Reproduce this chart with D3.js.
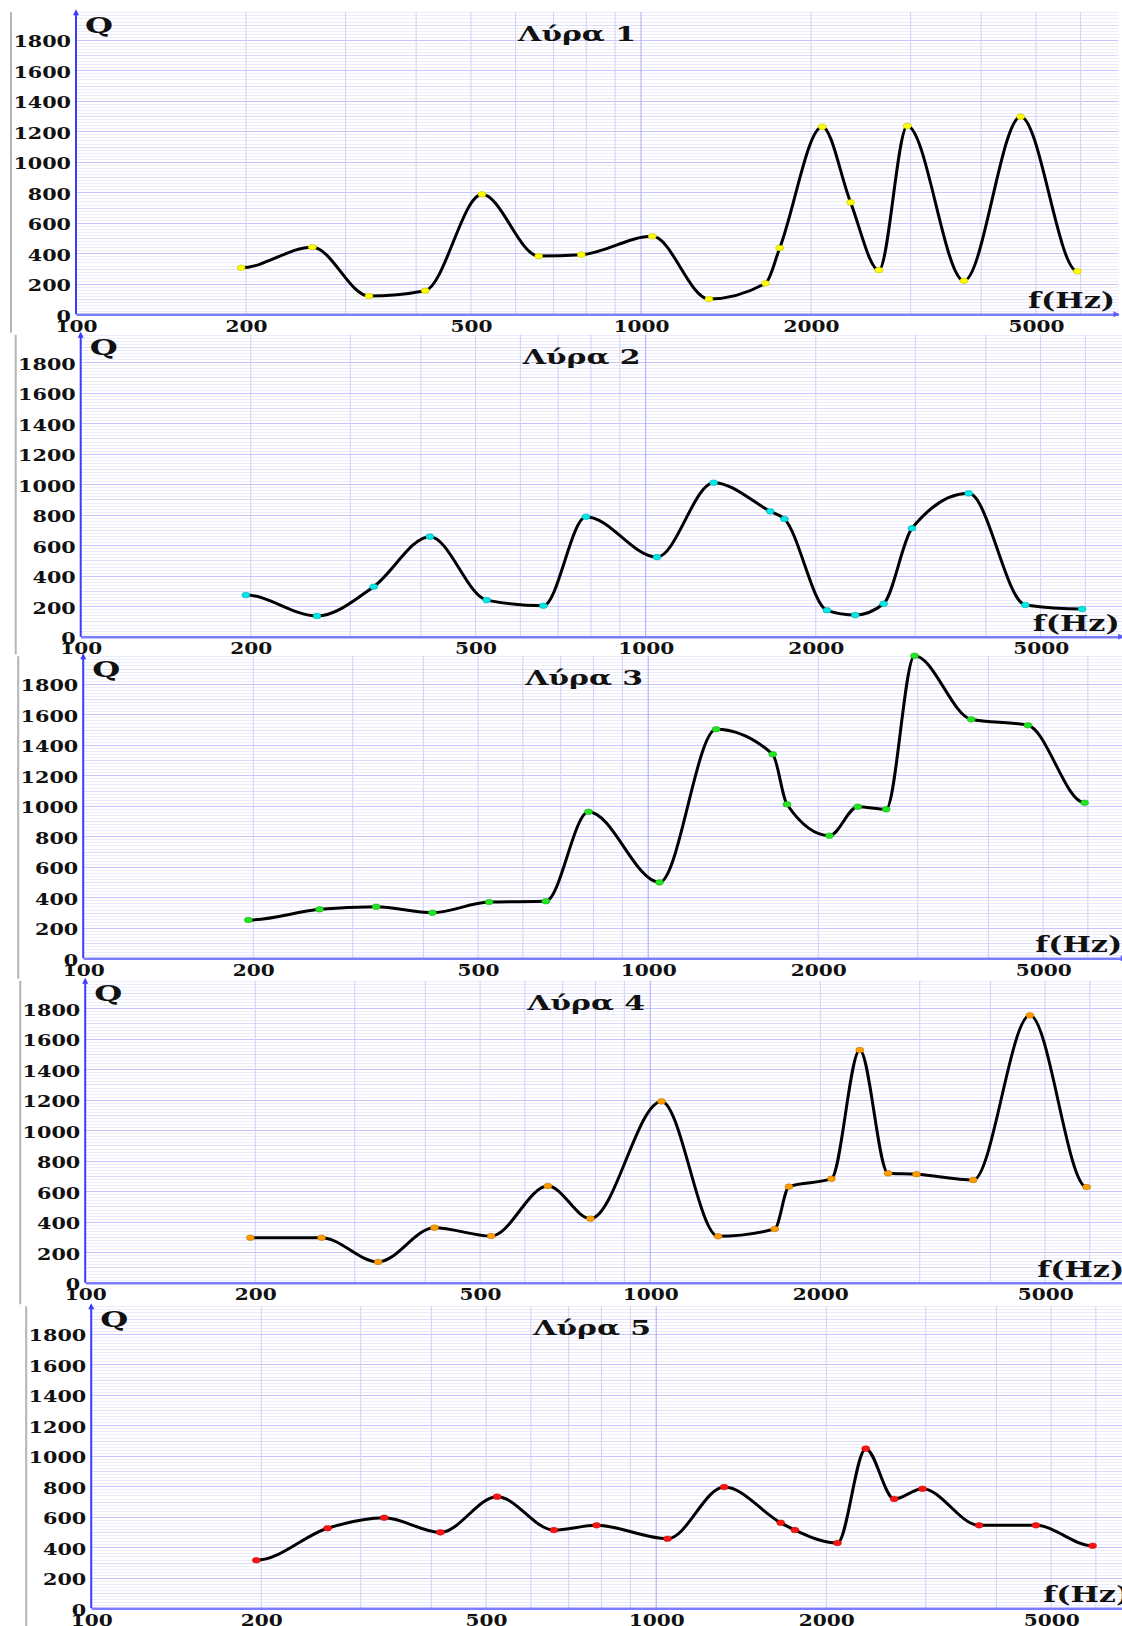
<!DOCTYPE html>
<html>
<head>
<meta charset="utf-8">
<script src="https://cdn.jsdelivr.net/npm/d3@7"></script>
<style>
  body { margin: 0; background: #fff; }
  svg { display: block; }
</style>
</head>
<body>
<svg id="chart" width="1122" height="1626"></svg>
<script>
// Measured resonance frequencies (Hz), shared by all five instruments
const freqs = [196, 262, 330, 415, 523, 659, 784, 1047, 1319, 1661, 1760, 2093, 2349, 2637, 2960, 3729, 4699, 5920];

// Quality factor Q at each frequency, one array per lyra
const lyra1 = [305, 440, 120, 155, 787, 382, 391, 511, 100, 203, 435, 1230, 734, 290, 1235, 220, 1296, 282];
const lyra2 = [273, 136, 328, 656, 240, 203, 787, 522, 1010, 822, 772, 173, 142, 216, 711, 940, 208, 182];
const lyra3 = [251, 321, 338, 299, 369, 374, 961, 498, 1502, 1338, 1010, 804, 994, 977, 1984, 1567, 1528, 1020];
const lyra4 = [295, 295, 136, 361, 306, 634, 420, 1189, 304, 352, 630, 682, 1526, 717, 711, 673, 1753, 627];
const lyra5 = [315, 525, 594, 498, 732, 513, 544, 456, 795, 561, 513, 428, 1047, 717, 784, 544, 544, 410];

const titles = ["Λύρα 1", "Λύρα 2", "Λύρα 3", "Λύρα 4", "Λύρα 5"];
const yTicks = [0, 200, 400, 600, 800, 1000, 1200, 1400, 1600, 1800];
const xTicks = [100, 200, 500, 1000, 2000, 5000];
const gridFreqs = [200, 300, 400, 500, 600, 700, 800, 900, 1000, 2000, 3000, 4000, 5000, 6000];
const pointColors = ["#ffff00", "#00e8e8", "#22e622", "#ff9c00", "#ff1212"];

const series = [lyra1, lyra2, lyra3, lyra4, lyra5];

// Panel placement: left edge of the plot (100 Hz) and baseline (Q = 0) of each panel
const panelLeft = [76, 80.7, 83.2, 85.2, 91.2];
const panelBase = [314.3, 636.7, 958.3, 1282.7, 1608.3];
const pxPerDecade = 565;
const pxPerUnit = 0.1525;
const fMax = 7000, qMax = 2000;

const serif = "'DejaVu Serif', 'Liberation Serif', serif";
const svg = d3.select("#chart");

// Draw text horizontally stretched to a fixed width
function wideText(sel, str, w) {
  return sel.text(str)
    .attr("textLength", w)
    .attr("lengthAdjust", "spacingAndGlyphs");
}

// Monotone cubic Hermite curve whose end tangents are horizontal
function curveFlatEnds(context) {
  let xs, ys;
  const sign = v => v < 0 ? -1 : 1;
  function slope3(i) {
    const h0 = xs[i] - xs[i - 1], h1 = xs[i + 1] - xs[i];
    const s0 = (ys[i] - ys[i - 1]) / h0, s1 = (ys[i + 1] - ys[i]) / h1;
    const p = (s0 * h1 + s1 * h0) / (h0 + h1);
    return (sign(s0) + sign(s1)) * Math.min(Math.abs(s0), Math.abs(s1), 0.5 * Math.abs(p)) || 0;
  }
  return {
    areaStart() {}, areaEnd() {},
    lineStart() { xs = []; ys = []; },
    point(x, y) { xs.push(+x); ys.push(+y); },
    lineEnd() {
      const n = xs.length;
      if (!n) return;
      const t = xs.map((_, i) => (i === 0 || i === n - 1) ? 0 : slope3(i));
      context.moveTo(xs[0], ys[0]);
      for (let i = 1; i < n; i++) {
        const dx = (xs[i] - xs[i - 1]) / 3;
        context.bezierCurveTo(
          xs[i - 1] + dx, ys[i - 1] + dx * t[i - 1],
          xs[i] - dx, ys[i] - dx * t[i],
          xs[i], ys[i]);
      }
    }
  };
}

series.forEach((vals, i) => {
  const x0 = panelLeft[i], y0 = panelBase[i];
  const xEnd = x0 + pxPerDecade * Math.log10(fMax / 100);
  const x = d3.scaleLog().domain([100, fMax]).range([x0, xEnd]);
  const y = d3.scaleLinear().domain([0, qMax]).range([y0, y0 - qMax * pxPerUnit]);
  const top = y0 - 304, bottom = y0 + 22;
  const yTop = y(qMax) + 3;

  const g = svg.append("g");

  // panel background and left frame
  g.append("rect").attr("x", 0).attr("y", top).attr("width", 1122).attr("height", bottom - top).attr("fill", "#fff");
  g.append("line").attr("x1", x0 - 65).attr("x2", x0 - 65).attr("y1", top + 2).attr("y2", bottom)
    .attr("stroke", "#b4b4b4").attr("stroke-width", 2);

  // fine horizontal grid
  const minor = d3.range(20, qMax, 20).filter(v => v % 200 !== 0 && y(v) > yTop);
  g.append("g").selectAll("line").data(minor).join("line")
    .attr("x1", x0).attr("x2", xEnd)
    .attr("y1", d => Math.round(y(d)) + 0.5).attr("y2", d => Math.round(y(d)) + 0.5)
    .attr("stroke", d => d % 100 === 0 ? "#dcdcfb" : "#ececfd").attr("stroke-width", 1);

  // main horizontal grid
  const major = d3.range(200, qMax, 200).filter(v => y(v) > yTop);
  g.append("g").selectAll("line").data(major).join("line")
    .attr("x1", x0).attr("x2", xEnd)
    .attr("y1", d => Math.round(y(d)) + 0.5).attr("y2", d => Math.round(y(d)) + 0.5)
    .attr("stroke", "#c6c6fb").attr("stroke-width", 1.2);

  // vertical grid on the log frequency scale
  g.append("g").selectAll("line").data(gridFreqs).join("line")
    .attr("x1", d => x(d)).attr("x2", d => x(d))
    .attr("y1", yTop).attr("y2", y0)
    .attr("stroke", d => d === 1000 ? "#a9a9f6" : "#d0d0f9").attr("stroke-width", 1);

  // x axis
  const xAxis = d3.axisBottom(x).tickValues(xTicks).tickSize(0).tickSizeOuter(0).tickFormat(d3.format("d"));
  const gx = g.append("g").attr("transform", `translate(0,${y0})`).call(xAxis);
  gx.select(".domain").attr("stroke", "#7c7cff").attr("stroke-width", 2.5);
  gx.selectAll("text")
    .attr("y", 17.4).attr("dy", null)
    .attr("font-family", serif).attr("font-size", 16).attr("font-weight", "bold").attr("fill", "#111")
    .each(function (d) { wideText(d3.select(this), String(d), String(d).length * 14); });

  // y axis
  const yAxis = d3.axisLeft(y).tickValues(yTicks).tickSize(0).tickSizeOuter(0).tickFormat(d3.format("d"));
  const gy = g.append("g").attr("transform", `translate(${x0},0)`).call(yAxis);
  gy.select(".domain").remove();
  gy.selectAll("text")
    .attr("x", -5).attr("y", 2).attr("dy", "0.32em")
    .attr("font-family", serif).attr("font-size", 16).attr("font-weight", "bold").attr("fill", "#111")
    .each(function (d) { wideText(d3.select(this), String(d), String(d).length * 14.4); });
  g.append("line").attr("x1", x0).attr("x2", x0).attr("y1", y0).attr("y2", yTop - 1)
    .attr("stroke", "#3c3cff").attr("stroke-width", 2);

  // axis arrow heads
  g.append("path")
    .attr("d", `M${x0 - 3},${yTop + 3} L${x0},${yTop - 3} L${x0 + 3},${yTop + 3} Z`)
    .attr("fill", "#3c3cff");
  g.append("path")
    .attr("d", `M${xEnd - 5},${y0 - 3} L${xEnd + 1},${y0} L${xEnd - 5},${y0 + 3} Z`)
    .attr("fill", "#5a5aff");

  // axis names and title
  wideText(g.append("text").attr("x", x0 + 9).attr("y", y0 - 281.6)
    .attr("font-family", serif).attr("font-size", 22).attr("font-weight", "bold").attr("fill", "#111"), "Q", 28);
  wideText(g.append("text").attr("x", x0 + 952).attr("y", y0 - 6)
    .attr("font-family", serif).attr("font-size", 22).attr("font-weight", "bold").attr("fill", "#111"), "f(Hz)", 87);
  wideText(g.append("text").attr("x", x0 + 501).attr("y", y0 - 273).attr("text-anchor", "middle")
    .attr("font-family", serif).attr("font-size", 20.5).attr("font-weight", "bold").attr("fill", "#111"), titles[i], 118);

  // smooth curve through the measured points
  const pts = freqs.map((f, k) => ({ f, q: vals[k] }));
  const line = d3.line().x(d => x(d.f)).y(d => y(d.q)).curve(curveFlatEnds);
  g.append("path").datum(pts).attr("d", line)
    .attr("fill", "none").attr("stroke", "#000").attr("stroke-width", 3)
    .attr("stroke-linejoin", "round").attr("stroke-linecap", "round");

  // measured points
  const c = d3.color(pointColors[i]);
  g.append("g").selectAll("ellipse").data(pts).join("ellipse")
    .attr("cx", d => x(d.f)).attr("cy", d => y(d.q))
    .attr("rx", 4).attr("ry", 2.8)
    .attr("fill", pointColors[i]).attr("stroke", c.darker(0.8)).attr("stroke-width", 0.6);
});
</script>
</body>
</html>
